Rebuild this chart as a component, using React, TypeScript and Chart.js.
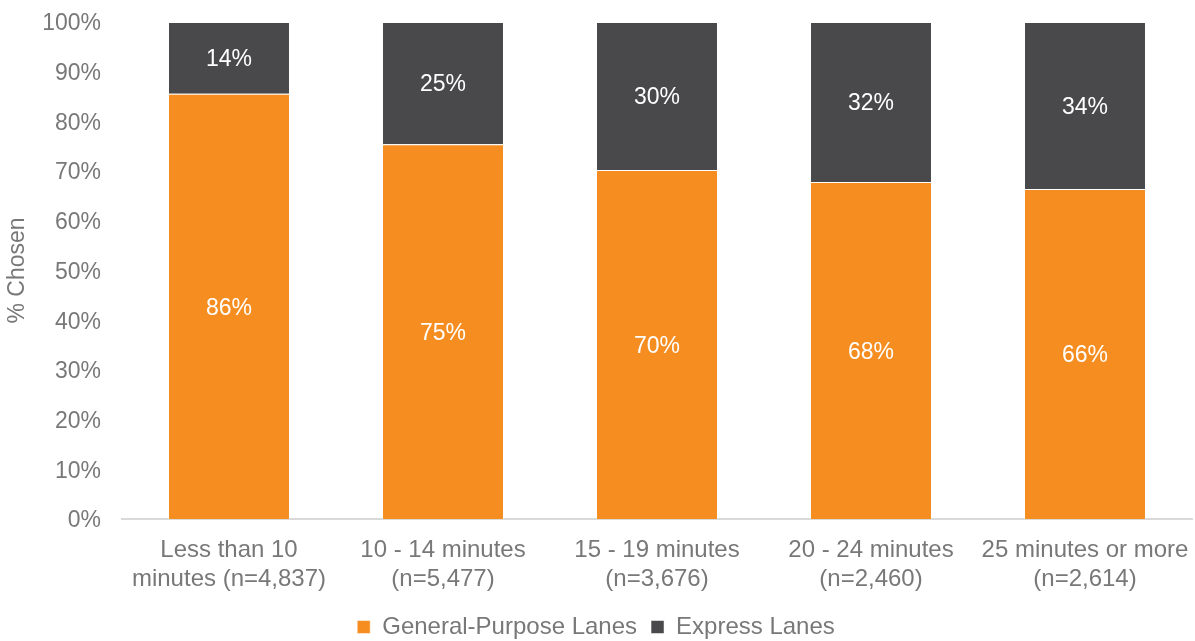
import React, { useEffect, useRef } from "react";
import { Chart, registerables } from "chart.js";

Chart.register(...registerables);

const categories: string[][] = [
  ["Less than 10", "minutes (n=4,837)"],
  ["10 - 14 minutes", "(n=5,477)"],
  ["15 - 19 minutes", "(n=3,676)"],
  ["20 - 24 minutes", "(n=2,460)"],
  ["25 minutes or more", "(n=2,614)"],
];
const generalPurpose: number[] = [85.55, 75.4, 70.2, 67.8, 66.4];
const expressLanes: number[] = [14.45, 24.6, 29.8, 32.2, 33.6];
const yTicks: number[] = [0, 10, 20, 30, 40, 50, 60, 70, 80, 90, 100];

const FONT = "'Liberation Sans', Arial, sans-serif";
const TEXT = "#787878";
const FS = 23;
const FS_X = 24;

const labelPlugin = {
  id: "barLabels",
  afterDatasetsDraw(chart: any) {
    const ctx = chart.ctx;
    ctx.save();
    ctx.fillStyle = "#ffffff";
    ctx.font = `${FS}px ${FONT}`;
    ctx.textAlign = "center";
    ctx.textBaseline = "middle";
    chart.data.datasets.forEach((ds: any, di: number) => {
      const meta = chart.getDatasetMeta(di);
      meta.data.forEach((bar: any, i: number) => {
        const v = ds.data[i] as number;
        const yMid = (bar.y + bar.base) / 2 + 2;
        ctx.fillText(Math.round(v) + "%", bar.x, yMid);
      });
    });
    ctx.restore();
  },
};

export default function App() {
  const ref = useRef<HTMLCanvasElement | null>(null);
  useEffect(() => {
    if (!ref.current) return;
    const chart = new Chart(ref.current, {
      type: "bar",
      data: {
        labels: categories,
        datasets: [
          {
            label: "General-Purpose Lanes",
            data: generalPurpose,
            backgroundColor: "#F58D20",
            borderColor: "rgba(255,255,255,0.5)",
            borderWidth: 1,
            categoryPercentage: 1,
            barPercentage: 0.57,
          },
          {
            label: "Express Lanes",
            data: expressLanes,
            backgroundColor: "#49494B",
            borderColor: "rgba(255,255,255,0.5)",
            borderWidth: 1,
            categoryPercentage: 1,
            barPercentage: 0.57,
          },
        ],
      },
      options: {
        animation: false,
        responsive: false,
        maintainAspectRatio: false,
        layout: { padding: { top: 22, right: 3, left: 0, bottom: 0 } },
        scales: {
          x: {
            stacked: true,
            grid: { display: false, drawTicks: false },
            border: { color: "#d9d9d9", width: 2 },
            ticks: { color: TEXT, font: { size: FS_X, family: FONT }, padding: 17, maxRotation: 0 },
            afterFit: (scale: any) => {
              scale.height = 82;
              scale.paddingLeft = 0;
              scale.paddingRight = 0;
            },
          },
          y: {
            stacked: true,
            min: 0,
            max: 100,
            afterBuildTicks: (axis: any) => {
              axis.ticks = yTicks.map((v) => ({ value: v }));
            },
            grid: { display: false, drawTicks: false },
            border: { display: false },
            ticks: {
              color: TEXT,
              font: { size: FS, family: FONT },
              padding: 21,
              labelOffset: 2,
              callback: (v: any) => v + "%",
            },
            title: {
              display: true,
              text: "% Chosen",
              color: TEXT,
              font: { size: FS, family: FONT },
              padding: { top: 4, bottom: 10 },
            },
            afterFit: (scale: any) => {
              scale.width = 122;
              scale.paddingTop = 0;
              scale.paddingBottom = 0;
            },
          },
        },
        plugins: {
          legend: {
            position: "bottom",
            labels: {
              color: TEXT,
              font: { size: FS_X, family: FONT },
              boxWidth: 13,
              boxHeight: 13,
              padding: 14,
              useBorderRadius: false,
            },
          },
          tooltip: { enabled: false },
        },
      },
      plugins: [labelPlugin],
    });
    return () => chart.destroy();
  }, []);
  return (
    <div style={{ position: "absolute", left: 0, top: 0, width: 1195, height: 641, overflow: "hidden", background: "#fff" }}>
      <canvas ref={ref} width={1195} height={649} style={{ display: "block" }} />
    </div>
  );
}
